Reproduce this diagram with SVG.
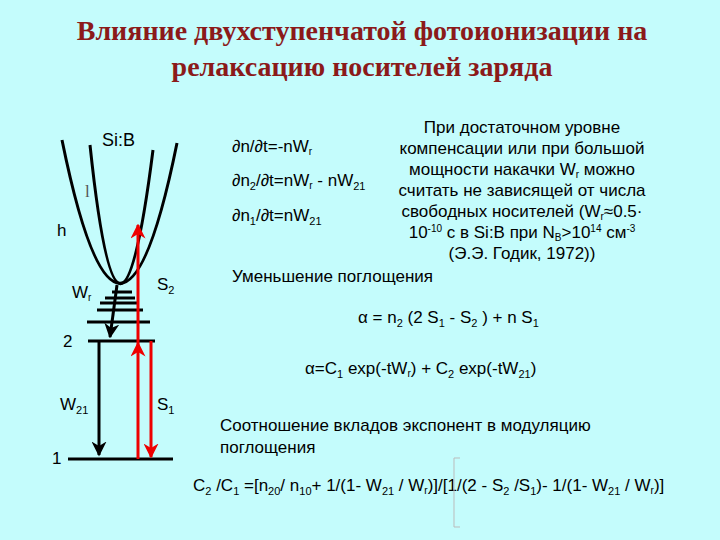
<svg xmlns="http://www.w3.org/2000/svg" width="720" height="540" viewBox="0 0 720 540">
<defs>
<style>
.t{font-family:"Liberation Sans",Arial,sans-serif;font-size:17px;fill:#000}
.ttl{font-family:"Liberation Serif","Times New Roman",serif;font-size:28px;font-weight:bold;fill:#8b1a1a}
.k{stroke:#000;stroke-width:3;fill:none}
.r{stroke:#e00;stroke-width:3;fill:none}
</style>
<marker id="ak" viewBox="0 0 10 10" refX="9" refY="5" markerWidth="5" markerHeight="5" orient="auto"><path d="M0,0 L10,5 L0,10 L3,5 z" fill="#000"/></marker>
<marker id="ar" viewBox="0 0 10 10" refX="9" refY="5" markerWidth="5" markerHeight="5" orient="auto"><path d="M0,0 L10,5 L0,10 L3,5 z" fill="#e00"/></marker>
</defs>
<rect width="720" height="540" fill="#c4fcfc"/>
<text class="ttl" x="362" y="40" text-anchor="middle">Влияние двухступенчатой фотоионизации на</text>
<text class="ttl" x="362" y="76" text-anchor="middle">релаксацию носителей заряда</text>
<g id="bands">
<path class="k" d="M62,140 Q120,425 177,143"/>
<path class="k" d="M90,145 Q119,420 153,150"/>
<path class="k" d="M112,292H132M105,298H135M100,303H138M97,310H143"/>
<line class="k" x1="87" y1="322" x2="150" y2="322"/>
<line class="k" x1="88" y1="341" x2="155" y2="341"/>
<line class="k" x1="68" y1="459" x2="173" y2="459"/>
</g>
<g id="connectors">
<line class="k" x1="117" y1="285" x2="110" y2="337" marker-end="url(#ak)"/>
<line class="k" x1="99" y1="341" x2="99" y2="455" marker-end="url(#ak)"/>
<line class="r" x1="138" y1="459" x2="138" y2="343" marker-end="url(#ar)"/>
<line class="r" x1="138" y1="343" x2="138" y2="225" marker-end="url(#ar)"/>
<line class="r" x1="151" y1="341" x2="151" y2="457" marker-end="url(#ar)"/>
</g>
<g id="labels" class="t">
<text x="102" y="146" font-size="18">Si:B</text>
<text x="85" y="197" style="font-family:'Liberation Serif',serif;fill:#555">l</text>
<text x="57" y="236">h</text>
<text x="72" y="298">W<tspan font-size="10" dy="3">r</tspan></text>
<text x="157" y="290">S<tspan font-size="11" dy="4">2</tspan></text>
<text x="63" y="347">2</text>
<text x="60" y="410">W<tspan font-size="11" dy="4">21</tspan></text>
<text x="157" y="410">S<tspan font-size="11" dy="4">1</tspan></text>
<text x="52" y="464">1</text>
</g>
<g id="equations" class="t">
<text x="232" y="152">∂n/∂t=-nW<tspan font-size="10" dy="3">r</tspan></text>
<text x="232" y="186">∂n<tspan font-size="11" dy="4">2</tspan><tspan dy="-4">/∂t=nW</tspan><tspan font-size="10" dy="3">r</tspan><tspan dy="-3"> - nW</tspan><tspan font-size="11" dy="4">21</tspan></text>
<text x="232" y="221">∂n<tspan font-size="11" dy="4">1</tspan><tspan dy="-4">/∂t=nW</tspan><tspan font-size="11" dy="4">21</tspan></text>
<text x="232" y="282">Уменьшение поглощения</text>
<text x="358" y="323">α = n<tspan font-size="11" dy="4">2</tspan><tspan dy="-4"> (2 S</tspan><tspan font-size="11" dy="4">1</tspan><tspan dy="-4"> - S</tspan><tspan font-size="11" dy="4">2</tspan><tspan dy="-4"> ) + n S</tspan><tspan font-size="11" dy="4">1</tspan></text>
<text x="305" y="374">α=C<tspan font-size="11" dy="4">1</tspan><tspan dy="-4"> exp(-tW</tspan><tspan font-size="10" dy="3">r</tspan><tspan dy="-3">) + C</tspan><tspan font-size="11" dy="4">2</tspan><tspan dy="-4"> exp(-tW</tspan><tspan font-size="11" dy="4">21</tspan><tspan dy="-4">)</tspan></text>
<text x="220" y="431">Соотношение вкладов экспонент в модуляцию</text>
<text x="220" y="453">поглощения</text>
<text x="193" y="491">C<tspan font-size="11" dy="4">2</tspan><tspan dy="-4"> /C</tspan><tspan font-size="11" dy="4">1</tspan><tspan dy="-4"> =[n</tspan><tspan font-size="11" dy="4">20</tspan><tspan dy="-4">/ n</tspan><tspan font-size="11" dy="4">10</tspan><tspan dy="-4">+ 1/(1- W</tspan><tspan font-size="11" dy="4">21</tspan><tspan dy="-4"> / W</tspan><tspan font-size="10" dy="3">r</tspan><tspan dy="-3">)]/[1/(2 - S</tspan><tspan font-size="11" dy="4">2</tspan><tspan dy="-4"> /S</tspan><tspan font-size="11" dy="4">1</tspan><tspan dy="-4">)- 1/(1- W</tspan><tspan font-size="11" dy="4">21</tspan><tspan dy="-4"> / W</tspan><tspan font-size="10" dy="3">r</tspan><tspan dy="-3">)]</tspan></text>
</g>
<g id="note" class="t" text-anchor="middle">
<text x="522" y="133">При достаточном уровне</text>
<text x="522" y="154">компенсации или при большой</text>
<text x="522" y="175">мощности накачки W<tspan font-size="10" dy="3">r</tspan><tspan dy="-3"> можно</tspan></text>
<text x="522" y="196">считать не зависящей от числа</text>
<text x="522" y="217">свободных носителей (W<tspan font-size="10" dy="3">r</tspan><tspan dy="-3">≈0.5·</tspan></text>
<text x="522" y="238">10<tspan font-size="10" dy="-6">-10</tspan><tspan dy="6"> с в Si:B при N</tspan><tspan font-size="10" dy="3">B</tspan><tspan dy="-3">&gt;10</tspan><tspan font-size="10" dy="-6">14</tspan><tspan dy="6"> см</tspan><tspan font-size="10" dy="-6">-3</tspan></text>
<text x="522" y="259">(Э.Э. Годик, 1972))</text>
</g>
<path d="M460,458 H454 V527 H460" stroke="#bbb" stroke-width="1" fill="none"/>
</svg>
